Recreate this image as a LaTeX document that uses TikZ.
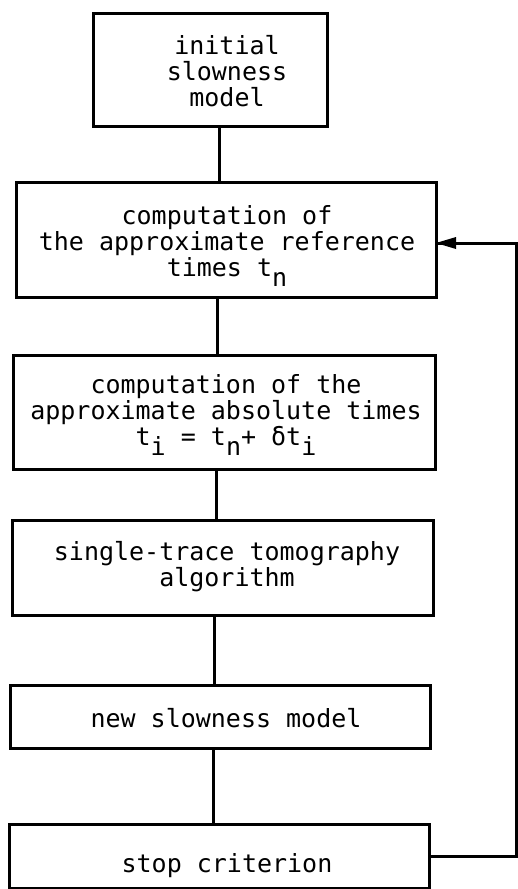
\documentclass[tikz,border=0pt]{standalone}
\usepackage{fontspec}
\setmonofont{DejaVu Sans Mono}
\usetikzlibrary{arrows.meta}
\newcommand\lowsub[1]{\raisebox{-10pt}{#1}}
\begin{document}
\begin{tikzpicture}[x=1pt,y=-1pt,
  flowbox/.style={draw, line width=3pt, inner sep=0pt, outer sep=0pt},
  boxtext/.style={inner sep=0pt, outer sep=0pt, align=center, anchor=base,
    font=\ttfamily\fontsize{25pt}{26pt}\selectfont},
  link/.style={line width=3pt}]
\useasboundingbox (0,0) rectangle (518,889);
\node[flowbox, minimum width=234pt, minimum height=113pt] (b1) at (210,69.5) {};
\node[flowbox, minimum width=420pt, minimum height=115pt] (b2) at (226,239.5) {};
\node[flowbox, minimum width=422pt, minimum height=114pt] (b3) at (224,412) {};
\node[flowbox, minimum width=421pt, minimum height=95pt] (b4) at (222.5,567.5) {};
\node[flowbox, minimum width=420pt, minimum height=63pt] (b5) at (220,716.5) {};
\node[flowbox, minimum width=420pt, minimum height=64pt] (b6) at (219,856) {};
\node[boxtext] (t1) at (227,106) {initial\\slowness\\model};
\node[boxtext] (t2) at (227,276) {computation of\\the approximate reference\\times t\lowsub{n}};
\node[boxtext] (t3) at (226,445) {computation of the\\approximate absolute times\\t\lowsub{i} = t\lowsub{n}+ δt\lowsub{i}};
\node[boxtext] (t4) at (227,586) {single-trace tomography\\algorithm};
\node[boxtext] (t5) at (226,727) {new slowness model};
\node[boxtext] (t6) at (227,872) {stop criterion};
\draw[link] ([xshift=9pt]b1.south) -- ([xshift=9pt]b1.south |- b2.north);
\draw[link] ([xshift=-9pt]b2.south) -- ([xshift=-9pt]b2.south |- b3.north);
\draw[link] ([xshift=-8pt]b3.south) -- ([xshift=-8pt]b3.south |- b4.north);
\draw[link] ([xshift=-8.5pt]b4.south) -- ([xshift=-8.5pt]b4.south |- b5.north);
\draw[link] ([xshift=-7pt]b5.south) -- ([xshift=-7pt]b5.south |- b6.north);
\coordinate (ret) at (516,856);
\coordinate (tip) at ([yshift=-3.5pt]b2.east);
\draw[link] (b6.east) -- (ret) |- (tip);
\fill (tip) -- ++(20,-6) -- ++(0,12) -- cycle;
\end{tikzpicture}
\end{document}
